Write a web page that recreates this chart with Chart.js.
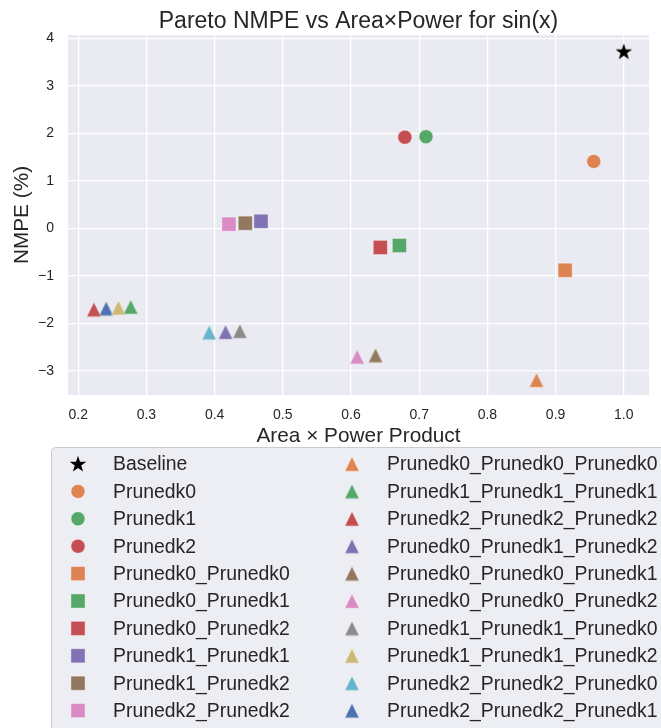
<!DOCTYPE html>
<html lang="en">
<head>
<meta charset="UTF-8" />
<title>Pareto NMPE vs Area×Power for sin(x)</title>
<script src="https://cdn.jsdelivr.net/npm/chart.js@4"></script>
<style>
  body { margin: 0; background: #ffffff; }
  #wrap { width: 661px; height: 728px; }
</style>
</head>
<body>
<div id="wrap"><canvas id="pareto" width="661" height="728"></canvas></div>
<script>
// data
const seriesNames = [
  "Baseline", "Prunedk0", "Prunedk1", "Prunedk2",
  "Prunedk0_Prunedk0", "Prunedk0_Prunedk1", "Prunedk0_Prunedk2",
  "Prunedk1_Prunedk1", "Prunedk1_Prunedk2", "Prunedk2_Prunedk2",
  "Prunedk0_Prunedk0_Prunedk0", "Prunedk1_Prunedk1_Prunedk1", "Prunedk2_Prunedk2_Prunedk2",
  "Prunedk0_Prunedk1_Prunedk2", "Prunedk0_Prunedk0_Prunedk1", "Prunedk0_Prunedk0_Prunedk2",
  "Prunedk1_Prunedk1_Prunedk0", "Prunedk1_Prunedk1_Prunedk2", "Prunedk2_Prunedk2_Prunedk0",
  "Prunedk2_Prunedk2_Prunedk1"
];
const areaPower = [
  1.000, 0.956, 0.710, 0.679,
  0.914, 0.671, 0.643,
  0.468, 0.445, 0.421,
  0.872, 0.277, 0.223,
  0.416, 0.636, 0.609,
  0.437, 0.259, 0.392,
  0.241
];
const nmpe = [
  3.72, 1.41, 1.93, 1.92,
  -0.88, -0.36, -0.40,
  0.15, 0.11, 0.09,
  -3.19, -1.65, -1.705,
  -2.18, -2.67, -2.70,
  -2.16, -1.67, -2.19,
  -1.685
];
const xTicks = [0.2, 0.3, 0.4, 0.5, 0.6, 0.7, 0.8, 0.9, 1.0];
const yTicks = [-3, -2, -1, 0, 1, 2, 3, 4];

// marker styling (seaborn "deep" palette)
const markerShape = [
  "star", "circle", "circle", "circle",
  "square", "square", "square", "square", "square", "square",
  "triangle", "triangle", "triangle", "triangle", "triangle",
  "triangle", "triangle", "triangle", "triangle", "triangle"
];
const markerColor = [
  "#000000", "#DD8452", "#55A868", "#C44E52",
  "#DD8452", "#55A868", "#C44E52", "#8172B3", "#937860", "#DA8BC3",
  "#DD8452", "#55A868", "#C44E52", "#8172B3", "#937860",
  "#DA8BC3", "#8C8C8C", "#CCB974", "#64B5CD", "#4C72B0"
];

const FONT = '"Liberation Sans", Arial, sans-serif';
const INK = "#262626";

function markerImage(shape, color) {
  const c = document.createElement("canvas");
  c.width = 20; c.height = 20;
  const g = c.getContext("2d");
  g.fillStyle = color;
  g.beginPath();
  if (shape === "triangle") {
    const h = 7.2;
    g.moveTo(10, 10 - h);
    g.lineTo(10 + h, 10 + h);
    g.lineTo(10 - h, 10 + h);
  } else {
    for (let i = 0; i < 10; i++) {
      const r = i % 2 ? 3.4 : 8.7;
      const a = -Math.PI / 2 + i * Math.PI / 5;
      g.lineTo(10 + r * Math.cos(a), 10.5 + r * Math.sin(a));
    }
  }
  g.closePath();
  g.fill();
  if (shape === "triangle") {
    g.strokeStyle = "rgba(255,255,255,0.5)";
    g.lineWidth = 0.8;
    g.stroke();
  }
  return c;
}

function styleFor(i) {
  const s = markerShape[i];
  if (s === "circle") return { pointStyle: "circle", radius: 7 };
  if (s === "square") return { pointStyle: "rect", radius: 10 };
  return { pointStyle: markerImage(s, markerColor[i]), radius: 10 };
}

const datasets = seriesNames.map((name, i) => {
  const st = styleFor(i);
  return {
    label: name,
    data: [{ x: areaPower[i], y: nmpe[i] }],
    pointStyle: st.pointStyle,
    pointRadius: st.radius,
    pointHoverRadius: st.radius,
    backgroundColor: markerColor[i],
    borderColor: "rgba(255,255,255,0.5)",
    borderWidth: 0.8
  };
});

const panelBg = {
  id: "panelBg",
  beforeDraw(chart) {
    const { ctx, chartArea: a } = chart;
    ctx.save();
    ctx.fillStyle = "#ffffff";
    ctx.fillRect(0, 0, chart.width, chart.height);
    ctx.fillStyle = "#EAEAF2";
    ctx.fillRect(a.left, a.top, a.right - a.left, a.bottom - a.top);
    ctx.restore();
  }
};

const titleAndLegend = {
  id: "titleAndLegend",
  afterDraw(chart) {
    const { ctx, chartArea: a } = chart;
    ctx.save();
    ctx.fillStyle = INK;
    ctx.font = "23px " + FONT;
    ctx.textAlign = "center";
    ctx.textBaseline = "alphabetic";
    ctx.fillText("Pareto NMPE vs Area×Power for sin(x)", (a.left + a.right) / 2, 27.5);

    // legend box, two columns
    ctx.beginPath();
    ctx.roundRect(51.5, 447.5, 700, 400, 4);
    ctx.fillStyle = "rgba(234,234,242,0.85)";
    ctx.fill();
    ctx.strokeStyle = "#CCCCCC";
    ctx.lineWidth = 1;
    ctx.stroke();

    ctx.font = "19.4px " + FONT;
    ctx.textAlign = "left";
    ctx.textBaseline = "middle";
    seriesNames.forEach((name, i) => {
      const col = i < 10 ? 0 : 1;
      const row = i % 10;
      const mx = col ? 352 : 78;
      const ty = 464 + row * 27.4;
      const st = styleFor(i);
      ctx.fillStyle = markerColor[i];
      ctx.strokeStyle = "rgba(255,255,255,0.5)";
      ctx.lineWidth = 0.8;
      Chart.helpers.drawPoint(ctx, { pointStyle: st.pointStyle, radius: st.radius, borderWidth: 0.8, rotation: 0 }, mx, ty);
      ctx.fillStyle = INK;
      ctx.fillText(name, mx + 35, ty + 1);
    });
    ctx.restore();
  }
};

new Chart(document.getElementById("pareto"), {
  type: "scatter",
  data: { datasets },
  options: {
    responsive: false,
    devicePixelRatio: 1,
    animation: false,
    layout: { padding: { left: 0, top: 35, right: 12, bottom: 279 } },
    plugins: {
      legend: { display: false },
      tooltip: { enabled: false }
    },
    scales: {
      x: {
        type: "linear",
        min: 0.185,
        max: 1.037,
        afterBuildTicks: s => { s.ticks = xTicks.map(v => ({ value: v })); },
        afterFit: s => { s.height = 54; },
        ticks: {
          autoSkip: false, maxRotation: 0, padding: 12,
          color: INK, font: { family: FONT, size: 14 },
          callback: v => v.toFixed(1)
        },
        grid: { color: "#ffffff", lineWidth: 1.3, drawTicks: false },
        border: { display: false },
        title: {
          display: true, text: "Area × Power Product", color: INK,
          font: { family: FONT, size: 20.8 }, padding: 0
        }
      },
      y: {
        type: "linear",
        min: -3.505,
        max: 4.07,
        afterBuildTicks: s => { s.ticks = yTicks.map(v => ({ value: v })); },
        afterFit: s => { s.width = 68; },
        ticks: {
          autoSkip: false, padding: 14,
          color: INK, font: { family: FONT, size: 14 },
          callback: v => String(v).replace("-", "\u2212")
        },
        grid: { color: "#ffffff", lineWidth: 1.3, drawTicks: false },
        border: { display: false },
        title: {
          display: true, text: "NMPE (%)", color: INK,
          font: { family: FONT, size: 20.8 }, padding: { top: 9.5, bottom: 0 }
        }
      }
    }
  },
  plugins: [panelBg, titleAndLegend]
});
</script>
</body>
</html>
